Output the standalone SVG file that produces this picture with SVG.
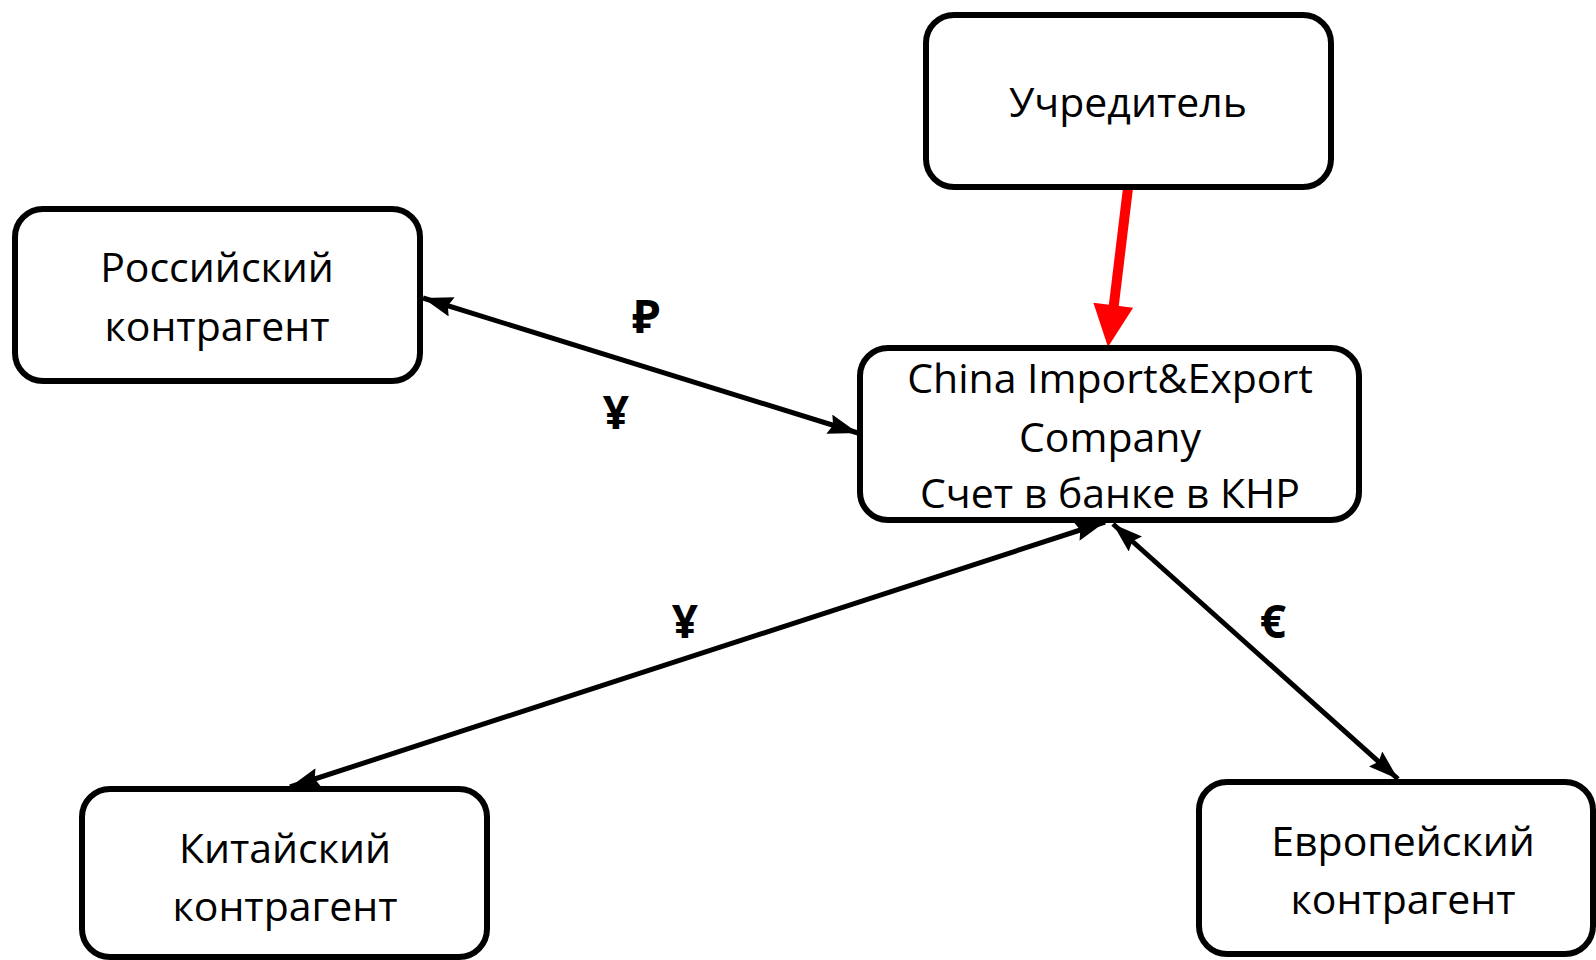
<svg xmlns="http://www.w3.org/2000/svg" width="1596" height="960" viewBox="0 0 1596 960">
<defs>
<style>
.box{fill:#fff;stroke:#000;stroke-width:6}
.t{font-family:"Open Sans","Noto Sans",sans-serif;font-size:41px;fill:#000;text-anchor:middle}
.cur{font-family:"Open Sans","Noto Sans",sans-serif;font-size:46px;font-weight:bold;fill:#000;text-anchor:middle}
.conn{stroke:#000;stroke-width:5;fill:none}
</style>
<marker id="ah" viewBox="0 0 30 20" refX="30" refY="10" markerWidth="30" markerHeight="20" orient="auto-start-reverse" markerUnits="userSpaceOnUse">
<path d="M0,0 L30,10 L0,20 L4,10 Z" fill="#000"/>
</marker>
</defs>
<rect width="1596" height="960" fill="#fff"/>
<g id="connectors">
<line class="conn" x1="423" y1="298" x2="858" y2="433" marker-start="url(#ah)" marker-end="url(#ah)"/>
<line class="conn" x1="1105" y1="522" x2="290" y2="787" marker-start="url(#ah)" marker-end="url(#ah)"/>
<line class="conn" x1="1113" y1="524" x2="1398" y2="779" marker-start="url(#ah)" marker-end="url(#ah)"/>
<line x1="1128" y1="188" x2="1113.5" y2="308" stroke="#f00" stroke-width="10"/>
<polygon points="1108,347 1133.1,307.8 1093.4,302.8" fill="#f00"/>
<text class="cur" x="646" y="333">₽</text>
<text class="cur" x="616" y="429">¥</text>
<text class="cur" x="685" y="638">¥</text>
<text class="cur" x="1273" y="638">€</text>
</g>
<g id="node-founder">
<rect class="box" x="926" y="15" width="405" height="172" rx="28"/>
<text class="t" x="1128" y="117">Учредитель</text>
</g>
<g id="node-russian">
<rect class="box" x="15" y="209" width="405" height="172" rx="28"/>
<text class="t" x="217" y="282">Российский</text>
<text class="t" x="217" y="341">контрагент</text>
</g>
<g id="node-company">
<rect class="box" x="860" y="348" width="499" height="172" rx="28"/>
<text class="t" x="1110" y="393">China Import&amp;Export</text>
<text class="t" x="1110" y="452">Company</text>
<text class="t" x="1110" y="508">Счет в банке в КНР</text>
</g>
<g id="node-chinese">
<rect class="box" x="82" y="789" width="405" height="168" rx="28"/>
<text class="t" x="285" y="863">Китайский</text>
<text class="t" x="285" y="921">контрагент</text>
</g>
<g id="node-european">
<rect class="box" x="1199" y="782" width="394" height="172" rx="28"/>
<text class="t" x="1403" y="856">Европейский</text>
<text class="t" x="1403" y="914">контрагент</text>
</g>
</svg>
